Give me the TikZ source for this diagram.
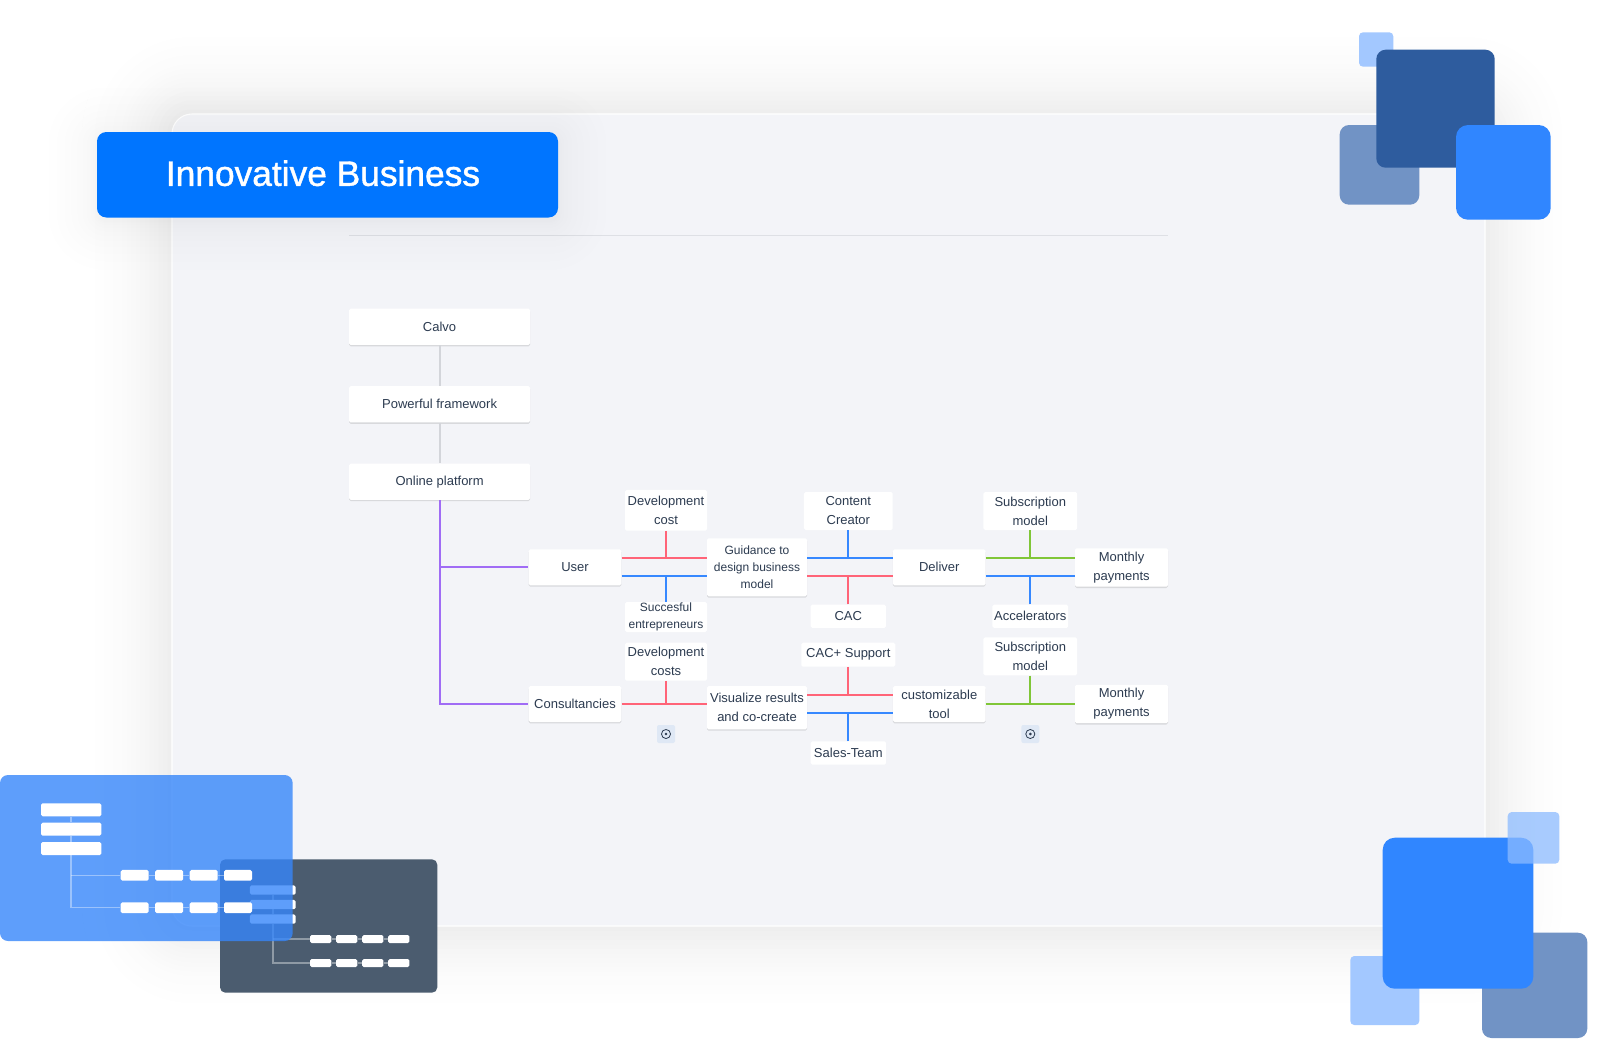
\documentclass[tikz,border=0pt]{standalone}
\usepackage{fontspec}
\setmainfont{Liberation Sans}
\newfontfamily\titlefont[FakeBold=1.2]{Liberation Sans}
\usetikzlibrary{shadows}
\definecolor{panelbg}{HTML}{F3F4F8}
\definecolor{inktext}{HTML}{2C3B50}
\definecolor{titleblue}{HTML}{0075FF}
\definecolor{cardblue}{HTML}{3686FA}
\definecolor{carddark}{HTML}{4B5C6F}
\definecolor{tilebright}{HTML}{3086FF}
\definecolor{tiledark}{HTML}{2E5C9E}
\definecolor{tilemid}{HTML}{7193C5}
\definecolor{tilelight}{HTML}{A3C8FF}
\definecolor{linepurple}{HTML}{A06CF5}
\definecolor{linered}{HTML}{FF6478}
\definecolor{lineblue}{HTML}{3688FF}
\definecolor{linegreen}{HTML}{80C638}
\definecolor{linegray}{HTML}{D3D5DA}
\definecolor{rulegray}{HTML}{DEE0E5}
\definecolor{addbg}{HTML}{DFE8F5}
\tikzset{
  wh/.style 2 args={minimum width=#1*0.75pt,minimum height=#2*0.75pt},
  leaf/.style={fill=white,rounded corners=1.2pt,inner sep=0pt,align=center,text=inktext,
    font=\fontsize{9.75}{14.25}\selectfont},
  card/.style={leaf,drop shadow={shadow xshift=0pt,shadow yshift=-1pt,opacity=0.11,fill=black}},
  smalltext/.style={font=\fontsize{9}{13}\selectfont},
  link/.style={line width=1.35pt},
  addbox/.style={fill=addbg,rounded corners=1.5pt,inner sep=0pt,minimum size=13.5pt},
  bar/.style={fill=white,rounded corners=1.2pt,inner sep=0pt},
  minilink/.style={draw=white,draw opacity=0.38,line width=1.1pt},
  tile/.style={fill=#1,rounded corners=7pt}
}
\begin{document}
\begin{tikzpicture}[x=0.75pt,y=-0.75pt]
\useasboundingbox (0,0) rectangle (1600,1047);
\foreach \i [evaluate=\i as \k using {6.5*((21-\i)/20)^2}] in {20,19,...,1}
  \fill[black!\k,rounded corners={(20+4.5*\i)*0.75pt}] ({172-4.5*\i},{114-4.5*\i}) rectangle ({1485+4.5*\i},{926+4.5*\i});
\draw[draw=white,fill=panelbg,line width=0.8pt,rounded corners=15pt] (172,114) rectangle (1485,926);
\draw[rulegray,line width=0.7pt] (349,235.5) -- (1168,235.5);

\foreach \i [evaluate=\i as \d using {0.4*\i*\i}] in {11,10,...,1}
  \fill[black,fill opacity=0.0055,rounded corners={(8+\d)*0.75pt}] ({97-\d},{132-\d+4}) rectangle ({558+\d},{217.5+\d+4});
\fill[titleblue,rounded corners=7pt] (97,132) rectangle (558,217.5);
\node[text=white,inner sep=0pt,font=\fontsize{26.5}{30}\titlefont] (title) at (323,173.2) {Innovative Business};

\node[card,wh={181}{36.3}] (calvo) at (439.6,326.8) {Calvo};
\node[card,wh={181}{36.3}] (framework) at (439.6,404.3) {Powerful framework};
\node[card,wh={181}{36.3}] (online) at (439.6,481.7) {Online platform};
\node[card,wh={92.6}{36}] (user) at (575,567.3) {User};
\node[card,wh={92.6}{36}] (consult) at (575,704) {Consultancies};
\node[card,smalltext,wh={100}{58}] (guidance) at (757,567.3) {Guidance to\\design business\\model};
\node[card,wh={100}{43.3}] (visualize) at (757,707.7) {Visualize results\\and co-create};
\node[card,wh={92.7}{36}] (deliver) at (939.3,567.3) {Deliver};
\node[card,wh={92.7}{36}] (custom) at (939.3,704) {customizable\\tool};
\node[card,wh={93}{38.4}] (monthlyA) at (1121.5,567.5) {Monthly\\payments};
\node[card,wh={93}{38.4}] (monthlyB) at (1121.5,704) {Monthly\\payments};
\node[leaf,wh={82}{40.7}] (devcost) at (666,510.3) {Development\\cost};
\node[leaf,smalltext,wh={82}{30}] (success) at (666,617) {Succesful\\entrepreneurs};
\node[leaf,wh={82}{38}] (devcosts) at (666,661.7) {Development\\costs};
\node[leaf,wh={88.7}{38}] (content) at (848.3,511) {Content\\Creator};
\node[leaf,wh={75.3}{23.3}] (cac) at (848.3,616.3) {CAC};
\node[leaf,wh={94}{24}] (support) at (848.3,654.7) {CAC+ Support};
\node[leaf,wh={75.3}{23.4}] (sales) at (848.3,753) {Sales-Team};
\node[leaf,wh={93.7}{38}] (subA) at (1030.3,511) {Subscription\\model};
\node[leaf,wh={75.7}{23.3}] (accel) at (1030.3,616.3) {Accelerators};
\node[leaf,wh={93.7}{38}] (subB) at (1030.3,656.3) {Subscription\\model};
\node[addbox] (addA) at (666,734) {};
\node[addbox] (addB) at (1030.3,734) {};
\foreach \n in {addA,addB} {
  \draw[inktext,line width=0.6pt] (\n) circle (3.4pt);
  \fill[inktext] (\n) circle (1.1pt);
}

\coordinate (railA) at (0,558);
\coordinate (railB) at (0,576.3);
\coordinate (railC) at (0,694.7);
\coordinate (railD) at (0,712.7);
\draw[linegray,link] (calvo) -- (framework);
\draw[linegray,link] (framework) -- (online);
\draw[linepurple,link] (online.south) -- (online.south |- consult) -- (consult.west);
\draw[linepurple,link] (online.south |- user) -- (user.west);
\draw[linered,link] (user.east |- railA) -- (guidance.west |- railA);
\draw[linered,link] (devcost.south) -- (devcost.south |- railA);
\draw[lineblue,link] (user.east |- railB) -- (guidance.west |- railB);
\draw[lineblue,link] (success.north) -- (success.north |- railB);
\draw[lineblue,link] (guidance.east |- railA) -- (deliver.west |- railA);
\draw[lineblue,link] (content.south) -- (content.south |- railA);
\draw[linered,link] (guidance.east |- railB) -- (deliver.west |- railB);
\draw[linered,link] (cac.north) -- (cac.north |- railB);
\draw[linegreen,link] (deliver.east |- railA) -- (monthlyA.west |- railA);
\draw[linegreen,link] (subA.south) -- (subA.south |- railA);
\draw[lineblue,link] (deliver.east |- railB) -- (monthlyA.west |- railB);
\draw[lineblue,link] (accel.north) -- (accel.north |- railB);
\draw[linered,link] (consult.east) -- (visualize.west |- consult);
\draw[linered,link] (devcosts.south) -- (devcosts.south |- consult);
\draw[linered,link] (visualize.east |- railC) -- (custom.west |- railC);
\draw[linered,link] (support.south) -- (support.south |- railC);
\draw[lineblue,link] (visualize.east |- railD) -- (custom.west |- railD);
\draw[lineblue,link] (sales.north) -- (sales.north |- railD);
\draw[linegreen,link] (custom.east) -- (monthlyB.west);
\draw[linegreen,link] (subB.south) -- (subB.south |- custom);

\fill[tile=tilemid] (1339.7,125) rectangle (1419.3,204.7);
\fill[tile=tilelight,rounded corners=3pt] (1359,32.3) rectangle (1393.3,66.7);
\fill[tile=tiledark] (1376.3,49.7) rectangle (1494.7,167.7);
\fill[tile=tilebright,rounded corners=9pt] (1456,125) rectangle (1550.7,219.7);

\fill[tile=tilelight,rounded corners=3pt] (1350.3,956) rectangle (1419.3,1025);
\fill[tile=tilemid] (1482,932.7) rectangle (1587.3,1038);
\fill[tile=tilebright,rounded corners=9pt] (1382.7,837.7) rectangle (1533.3,988.7);
\fill[fill=tilelight!80!tilebright,fill opacity=0.75,rounded corners=3pt] (1507.7,812) rectangle (1559.3,863.7);

\fill[carddark,rounded corners=4pt] (220,859.3) rectangle (437.3,992.7);
\foreach \n/\y in {A/890,B/904.5,C/919}
  \node[bar,wh={45.7}{9.4}] (dstack\n) at (272.8,\y) {};
\foreach \r/\y in {A/939,B/963} {
  \foreach \c/\x in {1/320.7,2/346.7,3/372.8,4/398.8}
    \node[bar,wh={21.3}{8}] (drow\r\c) at (\x,\y) {};
  \foreach \a/\b in {1/2,2/3,3/4}
    \draw[minilink] (drow\r\a) -- (drow\r\b);
}
\draw[minilink] (dstackA.south) -- (dstackB.north);
\draw[minilink] (dstackB.south) -- (dstackC.north);
\draw[minilink] (dstackC.south) -- (dstackC.south |- drowB1) -- (drowB1.west);
\draw[minilink] (dstackC.south |- drowA1) -- (drowA1.west);

\fill[cardblue,fill opacity=0.8,rounded corners=6pt] (0,775) rectangle (292.7,941);
\foreach \n/\y in {A/809.8,B/829.2,C/848.5}
  \node[bar,wh={60.3}{13}] (bstack\n) at (71.2,\y) {};
\foreach \r/\y in {A/875.3,B/907.7} {
  \foreach \c/\x in {1/134.7,2/169.2,3/203.7,4/238}
    \node[bar,wh={28}{10.7}] (brow\r\c) at (\x,\y) {};
  \foreach \a/\b in {1/2,2/3,3/4}
    \draw[minilink] (brow\r\a) -- (brow\r\b);
}
\draw[minilink] (bstackA.south) -- (bstackB.north);
\draw[minilink] (bstackB.south) -- (bstackC.north);
\draw[minilink] (bstackC.south) -- (bstackC.south |- browB1) -- (browB1.west);
\draw[minilink] (bstackC.south |- browA1) -- (browA1.west);
\end{tikzpicture}
\end{document}
